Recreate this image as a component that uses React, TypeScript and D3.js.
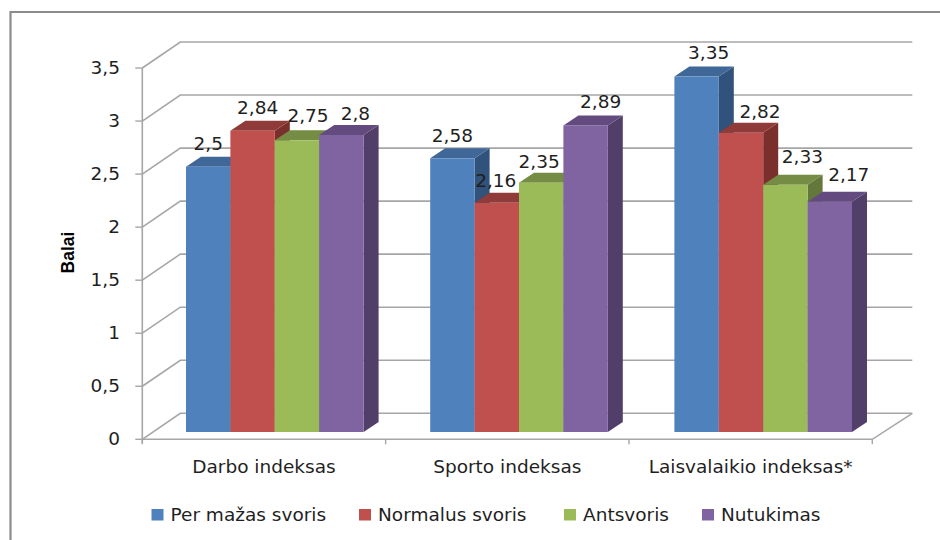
import React from "react";
import * as d3 from "d3";

const categories = ["Darbo indeksas", "Sporto indeksas", "Laisvalaikio indeksas*"];
const seriesNames = ["Per mažas svoris", "Normalus svoris", "Antsvoris", "Nutukimas"];
const perMazas = [2.5, 2.58, 3.35];
const normalus = [2.84, 2.16, 2.82];
const antsvoris = [2.75, 2.35, 2.33];
const nutukimas = [2.8, 2.89, 2.17];
const seriesValues = [perMazas, normalus, antsvoris, nutukimas];
const yTicks = [0, 0.5, 1, 1.5, 2, 2.5, 3, 3.5];

const frontColors = ["#4f81bd", "#c0504d", "#9bbb59", "#8064a2"];
const topColors = ["#3f6797", "#8f3b39", "#748c43", "#644b7f"];
const sideColors = ["#31527a", "#7a2f2d", "#63783a", "#523f69"];
const gridColor = "#a6a6a6";
const textColor = "#1f1f1f";
const font = "'DejaVu Sans', sans-serif";
const labelSize = 18.5;

// Hand-placed data labels: nudges from the centre of each bar's top edge.
const labelNudgeX = [
  [0, 5, 11, 14],
  [0, -1, -2, 15],
  [12, 19, 17, 19],
];
const labelNudgeY = [
  [-17, -17, -18, -15],
  [-16, -16, -15, -17],
  [-17.5, -15, -21.5, -20.5],
];

const depthX = 38;
const depthY = -26;
const barDepthX = 15;
const barDepthY = -10;

const axisLeft = 142.3;
const axisRight = 872.3;
const axisY0 = 439.3;
const axisY35 = 68;
const barBase = 432;
const barWidth = 44.4;
const firstGroupX = 186;
const lastGroupX = 674.4;

const legendX = [151.5, 359, 564, 702];

const fmt = (v: number) => String(v).replace(".", ",");

export default function App() {
  const y = d3.scaleLinear().domain([0, 3.5]).range([axisY0, axisY35]);
  const x0 = d3.scaleBand<string>().domain(categories).range([axisLeft, axisRight]);
  const groupX = d3.scalePoint<string>().domain(categories).range([firstGroupX, lastGroupX]);
  const xBar = d3
    .scaleBand<string>()
    .domain(seriesNames)
    .range([0, barWidth * seriesNames.length]);
  const barHeight = (v: number) => y(0) - y(v);
  const xTicks = d3.range(categories.length + 1).map((i) => axisLeft + i * x0.bandwidth());

  return (
    <svg
      width={940}
      height={540}
      style={{ position: "absolute", left: 0, top: 0, background: "#fff" }}
      fontFamily={font}
    >
      {/* outer chart frame, open to the right and bottom of the page */}
      <path d="M940,12 H10.5 V540" fill="none" stroke="#8c8c8c" strokeWidth={2.2} />

      {/* walls: each gridline runs across the side wall, then along the back */}
      {yTicks.map((t) => (
        <path
          key={t}
          d={`M${axisLeft},${y(t)} l${depthX},${depthY} H${axisRight + depthX + 2}`}
          fill="none"
          stroke={gridColor}
          strokeWidth={1.6}
        />
      ))}
      <path
        d={`M${axisLeft},${y(0)} H${axisRight} l${depthX + 2},${depthY}`}
        fill="none"
        stroke={gridColor}
        strokeWidth={1.6}
      />
      <line x1={axisLeft} x2={axisLeft} y1={y(3.5)} y2={y(0) + 4} stroke={gridColor} strokeWidth={1.6} />
      {yTicks.map((t) => (
        <line key={t} x1={axisLeft - 7} x2={axisLeft} y1={y(t)} y2={y(t)} stroke={gridColor} strokeWidth={1.4} />
      ))}
      {xTicks.map((t) => (
        <line key={t} x1={t} x2={t} y1={y(0)} y2={y(0) + 5} stroke={gridColor} strokeWidth={1.4} />
      ))}

      {/* y tick labels and title */}
      {yTicks.map((t) => (
        <text key={t} x={120} y={y(t) + 6} textAnchor="end" fontSize={labelSize} fill={textColor}>
          {fmt(t)}
        </text>
      ))}
      <text
        transform="translate(74,252.5) rotate(-90)"
        textAnchor="middle"
        fontFamily="'Liberation Sans', sans-serif"
        fontSize={17.5}
        fontWeight="bold"
        fill="#000"
      >
        Balai
      </text>

      {/* bars, drawn in series order so each one overlaps its neighbour's side */}
      {categories.map((c, ci) => (
        <g key={c}>
          {seriesNames.map((s, si) => {
            const v = seriesValues[si][ci];
            const left = groupX(c)! + xBar(s)!;
            const w = xBar.bandwidth();
            const h = barHeight(v);
            const top = barBase - h;
            return (
              <g key={s}>
                <path
                  d={`M${left + w},${top} l${barDepthX},${barDepthY} V${barBase + barDepthY} l${-barDepthX},${-barDepthY} Z`}
                  fill={sideColors[si]}
                />
                <path
                  d={`M${left},${top} l${barDepthX},${barDepthY} h${w} l${-barDepthX},${-barDepthY} Z`}
                  fill={topColors[si]}
                />
                <rect x={left} y={top} width={w} height={h} fill={frontColors[si]} />
              </g>
            );
          })}
        </g>
      ))}

      {/* data labels */}
      {categories.map((c, ci) =>
        seriesNames.map((s, si) => {
          const v = seriesValues[si][ci];
          const cx = groupX(c)! + xBar(s)! + xBar.bandwidth() / 2;
          return (
            <text
              key={s + c}
              x={cx + labelNudgeX[ci][si]}
              y={barBase - barHeight(v) + labelNudgeY[ci][si]}
              textAnchor="middle"
              fontSize={labelSize}
              fill={textColor}
            >
              {fmt(v)}
            </text>
          );
        })
      )}

      {/* category labels */}
      {categories.map((c) => (
        <text
          key={c}
          x={x0(c)! + x0.bandwidth() / 2}
          y={472.7}
          textAnchor="middle"
          fontSize={labelSize}
          fill={textColor}
        >
          {c}
        </text>
      ))}

      {/* legend */}
      {seriesNames.map((s, i) => (
        <g key={s}>
          <rect x={legendX[i]} y={509} width={12} height={11.5} fill={frontColors[i]} />
          <text x={legendX[i] + 19} y={521} fontSize={labelSize} fill={textColor}>
            {s}
          </text>
        </g>
      ))}
    </svg>
  );
}
